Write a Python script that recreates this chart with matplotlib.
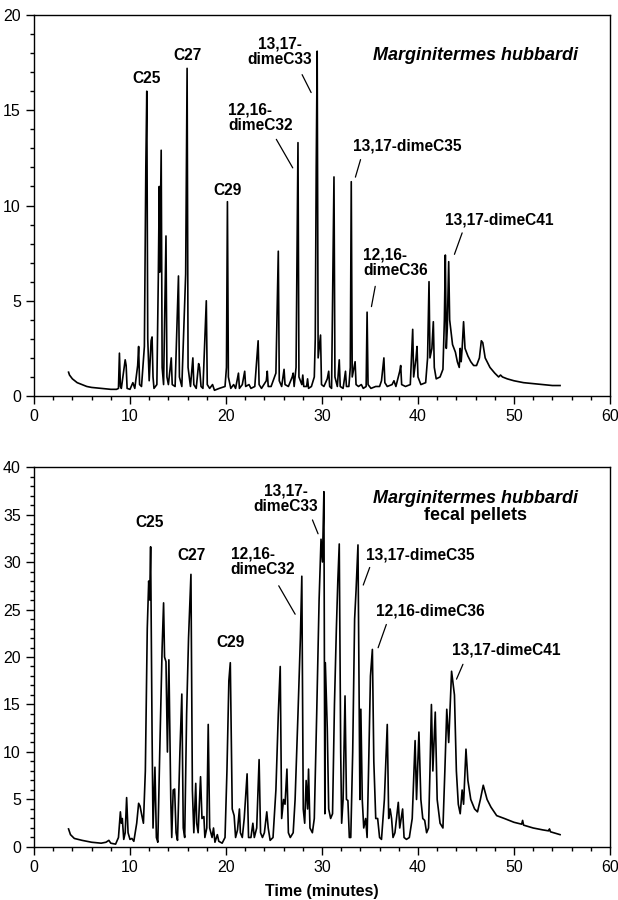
import matplotlib
matplotlib.use("Agg")
import matplotlib.pyplot as plt
from matplotlib.ticker import MultipleLocator

plt.rcParams['font.family'] = ['Liberation Sans', 'DejaVu Sans']

# trace vertices (time in min, detector response)
top_time = [3.6, 3.7, 4.0, 4.5, 5.0, 5.5, 6.0, 7.0, 8.0, 8.6,
            8.8, 8.9, 9.0, 9.1, 9.5, 9.6, 9.7, 10.0, 10.3, 10.5,
            10.8, 10.9, 11.0, 11.2, 11.5, 11.65, 11.75, 11.85, 12.0, 12.2,
            12.3, 12.4, 12.5, 12.8, 12.95, 13.05, 13.1, 13.25, 13.35, 13.5,
            13.75, 13.85, 14.0, 14.3, 14.4, 14.7, 15.05, 15.15, 15.4, 15.8,
            15.95, 16.05, 16.3, 16.55, 16.65, 16.9, 17.15, 17.25, 17.4, 17.6,
            17.95, 18.05, 18.3, 18.6, 18.8, 19.3, 19.9, 20.05, 20.15, 20.25,
            20.5, 20.8, 21.0, 21.3, 21.4, 21.7, 21.95, 22.05, 22.4, 22.6,
            23.0, 23.35, 23.45, 23.7, 24.2, 24.3, 24.4, 24.7, 25.2, 25.45,
            25.55, 25.8, 26.05, 26.15, 26.5, 26.9, 27.0, 27.1, 27.3, 27.5,
            27.6, 27.9, 28.0, 28.1, 28.4, 28.5, 28.6, 28.9, 29.2, 29.3,
            29.4, 29.5, 29.6, 29.85, 29.95, 30.2, 30.55, 30.7, 30.8, 31.0,
            31.25, 31.35, 31.6, 31.8, 31.9, 32.2, 32.45, 32.55, 32.8, 32.95,
            33.05, 33.15, 33.45, 33.55, 33.8, 34.1, 34.3, 34.6, 34.7, 34.8,
            35.1, 35.6, 36.0, 36.2, 36.45, 36.55, 36.8, 37.3, 37.5, 37.7,
            38.1, 38.2, 38.3, 38.7, 39.2, 39.45, 39.55, 39.8, 39.9, 40.0,
            40.3, 40.8, 41.0, 41.15, 41.25, 41.45, 41.6, 41.7, 41.9, 42.3,
            42.6, 42.75, 42.85, 42.95, 43.05, 43.2, 43.3, 43.6, 43.9, 44.1,
            44.3, 44.4, 44.5, 44.6, 44.75, 44.9, 45.2, 45.5, 45.8, 46.1,
            46.4, 46.6, 46.75, 47.0, 47.5, 48.0, 48.4, 48.6, 48.8, 49.3,
            50.0, 51.0, 52.0, 53.0, 54.0, 54.8]
top_signal = [1.25, 1.1, 0.9, 0.7, 0.6, 0.5, 0.45, 0.4, 0.35, 0.35,
              0.4, 2.25, 0.5, 0.4, 1.9, 1.6, 0.4, 0.35, 0.7, 0.4,
              1.6, 2.6, 0.6, 0.5, 2.6, 12.0, 16.0, 3.0, 0.8, 2.9,
              3.1, 1.0, 0.4, 0.6, 6.2, 11.0, 6.5, 12.9, 1.5, 0.6,
              8.4, 1.0, 0.6, 2.0, 0.6, 0.5, 6.3, 1.0, 0.5, 6.4,
              17.2, 1.5, 0.5, 2.0, 0.6, 0.4, 1.7, 1.5, 0.5, 0.4,
              5.0, 0.6, 0.4, 0.6, 0.3, 0.4, 0.5, 1.5, 10.2, 1.0,
              0.4, 0.6, 0.4, 1.2, 0.4, 0.6, 1.3, 0.5, 0.6, 0.4,
              0.5, 2.9, 0.6, 0.4, 0.8, 1.3, 0.5, 0.5, 1.2, 7.6,
              0.8, 0.5, 1.4, 0.6, 0.5, 1.0, 1.2, 0.5, 1.5, 13.3,
              1.0, 0.6, 1.1, 0.5, 0.5, 0.9, 0.4, 0.5, 1.0, 3.0,
              12.0, 18.1, 2.0, 3.2, 0.6, 0.5, 0.9, 1.3, 0.5, 0.4,
              11.5, 1.0, 0.5, 1.9, 0.5, 0.4, 1.3, 0.5, 0.5, 1.5,
              11.25, 1.0, 1.8, 0.6, 0.5, 0.6, 0.4, 0.5, 4.4, 0.6,
              0.4, 0.5, 0.5, 0.8, 2.0, 0.7, 0.5, 0.6, 0.8, 0.5,
              1.3, 1.6, 0.6, 0.5, 0.6, 3.5, 1.0, 2.0, 2.6, 1.0,
              0.6, 0.7, 2.0, 6.0, 2.0, 2.5, 3.9, 1.5, 0.9, 1.0,
              1.4, 4.0, 7.4, 2.5, 3.5, 7.05, 4.0, 2.7, 2.3, 1.8,
              1.5, 2.5, 1.8, 2.5, 3.9, 2.5, 2.1, 1.8, 1.6, 1.6,
              2.0, 2.9, 2.8, 2.0, 1.5, 1.2, 1.0, 1.1, 1.0, 0.9,
              0.8, 0.7, 0.65, 0.6, 0.55, 0.55]

bottom_time = [3.6, 3.8, 4.2, 5.0, 6.0, 7.0, 7.5, 7.8, 8.0, 8.5,
               8.8, 9.0, 9.1, 9.2, 9.35, 9.5, 9.65, 9.8, 10.0, 10.2,
               10.4, 10.7, 10.9, 11.05, 11.2, 11.4, 11.6, 11.8, 11.95, 12.05,
               12.15, 12.3, 12.4, 12.6, 12.75, 12.9, 13.1, 13.35, 13.5, 13.6,
               13.75, 13.9, 14.05, 14.25, 14.35, 14.5, 14.65, 14.8, 14.95, 15.2,
               15.4, 15.55, 15.7, 15.9, 16.1, 16.35, 16.5, 16.65, 16.85, 16.95,
               17.1, 17.35, 17.5, 17.7, 17.8, 18.0, 18.15, 18.3, 18.55, 18.7,
               18.85, 19.1, 19.25, 19.6, 19.9, 20.1, 20.3, 20.45, 20.65, 20.85,
               21.0, 21.2, 21.4, 21.5, 21.7, 21.9, 22.2, 22.35, 22.6, 22.8,
               22.95, 23.2, 23.45, 23.6, 23.8, 24.0, 24.25, 24.4, 24.6, 24.9,
               25.2, 25.45, 25.65, 25.8, 26.0, 26.15, 26.35, 26.5, 26.7, 27.0,
               27.2, 27.5, 27.75, 27.9, 28.05, 28.2, 28.35, 28.5, 28.6, 28.75,
               29.0, 29.2, 29.45, 29.7, 29.9, 30.05, 30.2, 30.3, 30.35, 30.55,
               30.7, 30.9, 31.1, 31.3, 31.5, 31.65, 31.8, 31.95, 32.05, 32.2,
               32.4, 32.55, 32.7, 32.85, 33.0, 33.2, 33.4, 33.55, 33.75, 33.95,
               34.05, 34.2, 34.35, 34.55, 34.7, 34.85, 35.05, 35.25, 35.4, 35.6,
               35.8, 36.0, 36.2, 36.5, 36.8, 36.95, 37.1, 37.25, 37.4, 37.6,
               37.95, 38.1, 38.4, 38.55, 38.8, 39.1, 39.4, 39.7, 39.85, 40.1,
               40.3, 40.5, 40.7, 40.9, 41.1, 41.25, 41.4, 41.55, 41.8, 42.0,
               42.3, 42.6, 42.8, 43.0, 43.2, 43.5, 43.8, 44.0, 44.2, 44.4,
               44.6, 44.75, 45.0, 45.2, 45.5, 45.9, 46.2, 46.5, 46.8, 47.2,
               47.6, 48.2, 49.0, 50.0, 50.8, 50.9, 51.0, 52.0, 53.0, 53.6,
               53.7, 53.8, 54.8]
bottom_signal = [1.9, 1.3, 0.9, 0.7, 0.5, 0.4, 0.5, 0.7, 0.4, 0.3,
                 1.0, 3.7, 2.5, 3.0, 0.8, 1.5, 5.2, 1.5, 0.8, 0.9,
                 0.6, 2.5, 4.6, 4.3, 3.5, 2.5, 8.0, 23.0, 28.0, 26.0,
                 31.6, 12.0, 2.0, 8.4, 1.0, 0.5, 10.0, 21.0, 25.7, 20.0,
                 19.5, 10.0, 19.7, 5.0, 1.0, 6.0, 6.1, 1.5, 0.7, 10.0,
                 16.1, 2.0, 1.0, 14.0, 22.0, 28.7, 6.0, 1.5, 6.7, 2.5,
                 1.5, 7.4, 3.0, 3.2, 1.0, 2.0, 12.9, 2.0, 1.0, 2.0,
                 0.5, 1.3, 0.6, 0.4, 1.0, 8.0, 17.5, 19.4, 4.0, 3.3,
                 1.0, 1.8, 4.0, 1.5, 1.0, 3.0, 7.7, 1.0, 1.0, 2.5,
                 1.0, 2.0, 9.2, 1.5, 1.0, 1.5, 3.7, 2.0, 0.7, 1.0,
                 6.0, 14.0, 19.0, 3.0, 5.0, 4.5, 8.2, 1.5, 1.0, 1.5,
                 5.0, 14.0, 22.0, 28.5, 4.0, 2.5, 7.0, 4.0, 8.2, 2.0,
                 1.5, 3.0, 14.0, 26.0, 32.4, 30.0, 37.4, 3.5, 19.4, 12.5,
                 4.0, 3.0, 3.5, 15.0, 23.0, 28.0, 31.9, 10.0, 2.5, 5.0,
                 15.9, 5.0, 4.9, 1.0, 1.0, 10.0, 24.0, 27.0, 31.8, 5.0,
                 14.5, 4.9, 2.0, 3.0, 1.0, 8.0, 18.0, 20.8, 9.0, 3.0,
                 3.0, 1.0, 0.8, 5.0, 12.9, 3.0, 4.0, 3.0, 1.0, 1.5,
                 4.7, 2.0, 4.0, 1.0, 0.8, 1.0, 3.0, 11.2, 5.0, 12.1,
                 5.0, 3.0, 2.8, 1.5, 2.0, 8.0, 15.0, 8.0, 14.2, 5.0,
                 2.5, 2.0, 8.0, 14.5, 11.0, 18.5, 16.0, 8.0, 4.5, 3.5,
                 6.0, 4.5, 10.3, 7.0, 5.0, 4.0, 3.7, 5.0, 6.5, 5.0,
                 4.2, 3.3, 3.0, 2.6, 2.4, 2.8, 2.3, 2.0, 1.8, 1.7,
                 1.9, 1.6, 1.3]

# peak labels: text, text position, arrow tail, arrow head (None = no arrow), alignment
top_labels = [
    ("C25", (11.7, 16.3), None, None, "center"),
    ("C27", (16.0, 17.5), None, None, "center"),
    ("C29", (20.2, 10.4), None, None, "center"),
    ("12,16-\ndimeC32", (20.2, 14.6), (25.1, 13.6), (27.1, 11.85), "left"),
    ("13,17-\ndimeC33", (25.6, 18.05), (27.8, 17.0), (29.0, 15.8), "center"),
    ("13,17-dimeC35", (38.9, 13.1), (34.1, 12.55), (33.4, 11.35), "center"),
    ("12,16-\ndimeC36", (34.3, 7.0), (35.6, 5.9), (35.1, 4.55), "left"),
    ("13,17-dimeC41", (48.5, 9.25), (44.7, 8.7), (43.7, 7.3), "center"),
]
bottom_labels = [
    ("C25", (12.05, 33.4), None, None, "center"),
    ("C27", (16.45, 29.9), None, None, "center"),
    ("C29", (20.45, 20.7), None, None, "center"),
    ("12,16-\ndimeC32", (20.5, 30.0), (25.35, 27.75), (27.35, 24.25), "left"),
    ("13,17-\ndimeC33", (26.2, 36.7), (28.9, 34.7), (29.7, 32.7), "center"),
    ("13,17-dimeC35", (40.2, 30.7), (35.07, 29.7), (34.2, 27.3), "center"),
    ("12,16-dimeC36", (41.25, 24.8), (36.8, 23.7), (35.75, 20.7), "center"),
    ("13,17-dimeC41", (49.2, 20.7), (44.8, 19.5), (43.9, 17.4), "center"),
]


def draw_panel(ax, t, s, labels, ymax):
    ax.plot(t, s, color="black", lw=1.2)
    ax.set_xlim(0, 60)
    ax.set_ylim(0, ymax)
    ax.xaxis.set_major_locator(MultipleLocator(10))
    ax.xaxis.set_minor_locator(MultipleLocator(2))
    ax.yaxis.set_major_locator(MultipleLocator(5))
    ax.yaxis.set_minor_locator(MultipleLocator(1))
    ax.tick_params(which="major", direction="out", length=6, width=1, labelsize=11.5)
    ax.tick_params(which="minor", direction="out", length=3, width=1)
    for sp in ax.spines.values():
        sp.set_linewidth(1)
    for text, xy, tail, head, ha in labels:
        va = "bottom" if tail is None else "center"
        ax.text(xy[0], xy[1], text, ha=ha, va=va, multialignment=ha,
                fontsize=11.2, fontweight="bold", linespacing=1.05)
        if tail is not None:
            ax.annotate("", xy=head, xytext=tail,
                        arrowprops=dict(arrowstyle="-", color="black", lw=0.9))


fig = plt.figure(figsize=(6.18, 9), dpi=100)
ax1 = fig.add_axes([0.055, 0.56, 0.932, 0.4233])
ax2 = fig.add_axes([0.055, 0.0589, 0.932, 0.4222])

draw_panel(ax1, top_time, top_signal, top_labels, 20)
ax1.text(46.0, 17.9, "Marginitermes hubbardi", ha="center", va="center",
         fontsize=13, fontweight="bold", style="italic")

draw_panel(ax2, bottom_time, bottom_signal, bottom_labels, 40)
ax2.text(46.0, 36.7, "Marginitermes hubbardi", ha="center", va="center",
         fontsize=13, fontweight="bold", style="italic")
ax2.text(46.0, 34.9, "fecal pellets", ha="center", va="center",
         fontsize=13, fontweight="bold")
ax2.set_xlabel("Time (minutes)", fontsize=11.5, fontweight="bold", labelpad=6)

fig.savefig("out.png", dpi=100)
